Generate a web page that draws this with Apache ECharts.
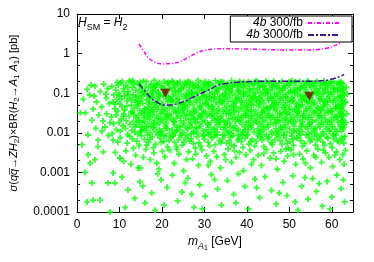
<!DOCTYPE html>
<html><head><meta charset="utf-8">
<script src="https://cdn.jsdelivr.net/npm/echarts@6/dist/echarts.min.js"></script>
<style>html,body{margin:0;padding:0;background:#fff}#c{width:374px;height:262px}</style>
</head><body><div id="c"></div>
<script>
// ---- axis ticks ----
const xTickValues = [0, 10, 20, 30, 40, 50, 60];
const yTickLabels = ['0.0001', '0.001', '0.01', '0.1', '1', '10'];
const yMinorTicks = [0.0002, 0.0005, 0.002, 0.005, 0.02, 0.05, 0.2, 0.5, 2, 5];

// ---- curves ----
const magentaX = [14.6, 15.5, 16.9, 18.5, 20, 22, 24, 26, 28, 30, 32, 35, 40, 45, 50, 54, 57, 59, 60.5, 62, 62.9];
const magentaY = [1.75, 1.25, 0.77, 0.6, 0.55, 0.56, 0.61, 0.78, 1.02, 1.2, 1.3, 1.33, 1.3, 1.26, 1.23, 1.23, 1.28, 1.38, 1.55, 1.85, 2.25];
const blueX = [14.6, 15.8, 17.2, 18.8, 20.5, 22, 23.5, 25.5, 27, 29, 31, 33, 35, 38, 43, 50, 55, 58.5, 60.5, 62, 62.9];
const blueY = [0.17, 0.12, 0.08, 0.06, 0.05, 0.05, 0.054, 0.063, 0.076, 0.097, 0.12, 0.155, 0.175, 0.19, 0.2, 0.2, 0.2, 0.21, 0.235, 0.265, 0.3];

// ---- limits (triangles) ----
const triX = [20.8, 54.7];
const triY = [0.1, 0.084];

// ---- green scan points ----
const greenLeft = [[1.5,0.07],[2.4,0.125],[2.0,0.032],[0.8,0.032],[3.5,0.021],[2.6,0.0088],[1.2,0.005],[4.9,0.0045],[3.0,0.09],[4.2,0.15],[5.5,0.11],[6.3,0.17],[7.2,0.13],[4.6,0.06],[5.8,0.045],[6.9,0.075],[7.6,0.055],[3.8,0.04],[5.1,0.028],[6.1,0.02],[7.0,0.03],[7.8,0.018],[4.4,0.013],[5.9,0.011],[6.6,0.014],[7.4,0.0085],[2.6,0.0028],[4.2,0.0021],[3.1,0.0017],[1.9,0.001],[3.5,0.00054],[2.4,0.00018],[3.8,0.0002],[5.4,0.0002],[7.3,0.00054],[6.2,0.0033],[5.0,0.0065],[3.3,0.16],[6.8,0.095],[4.0,0.085]];

const greenMid = [[8.2,0.15],[9.1,0.12],[10.3,0.18],[11.5,0.16],[12.6,0.19],[13.4,0.17],[8.7,0.09],[9.8,0.1],[10.9,0.13],[11.2,0.085],[12.1,0.11],[13.0,0.14],[13.8,0.12],[8.5,0.06],[9.4,0.07],[10.1,0.055],[11.8,0.065],[12.4,0.075],[13.2,0.09],[13.7,0.06],[8.9,0.04],[9.6,0.035],[10.6,0.045],[11.3,0.038],[12.8,0.05],[13.5,0.042],[8.1,0.025],[9.2,0.028],[10.4,0.022],[11.0,0.03],[12.2,0.026],[13.1,0.033],[13.9,0.024],[8.6,0.017],[9.9,0.018],[10.8,0.015],[11.6,0.02],[12.5,0.016],[13.3,0.019],[9.3,0.012],[10.2,0.011],[11.4,0.013],[12.9,0.0115],[13.6,0.014],[8.3,0.0095],[11.9,0.009],[12.3,0.205],[10.7,0.2],[9.7,0.16],[11.1,0.11],[12.0,0.095],[13.9,0.078],[10.5,0.072],[12.7,0.034],[11.7,0.048],[9.0,0.052],[13.4,0.029],[10.0,0.085],[9.5,0.19],[11.9,0.14],[13.1,0.21],[12.9,0.068],[10.9,0.026],[13.6,0.0105]];

const greenDense = [
[14.2,0.18],[15.6,0.2],[14.9,0.15],[15.3,0.125],[14.5,0.11],[15.8,0.095],[14.1,0.082],[15.1,0.074],[14.7,0.063],[15.5,0.056],[14.3,0.047],[15.9,0.041],[14.8,0.036],[15.2,0.031],[14.4,0.027],[15.7,0.024],[14.6,0.021],[15.4,0.018],[14.0,0.016],[15.0,0.014],[15.8,0.012],[14.9,0.0105],[14.3,0.0092],[15.5,0.0135],[14.7,0.165],[15.2,0.088],[14.5,0.052],[15.9,0.029],
[16.3,0.195],[17.5,0.17],[16.8,0.14],[17.9,0.128],[16.1,0.115],[17.2,0.1],[16.6,0.087],[17.7,0.078],[16.4,0.068],[17.1,0.06],[16.9,0.053],[17.6,0.046],[16.2,0.04],[17.3,0.035],[16.7,0.032],[17.8,0.028],[16.5,0.025],[17.0,0.022],[16.0,0.019],[17.4,0.017],[16.8,0.015],[17.9,0.013],[16.3,0.0115],[17.2,0.01],[16.6,0.0088],[17.5,0.155],[16.9,0.072],[17.7,0.038],
[18.2,0.21],[19.4,0.185],[18.7,0.16],[19.8,0.138],[18.5,0.12],[19.1,0.106],[18.0,0.092],[19.6,0.083],[18.9,0.073],[19.3,0.064],[18.4,0.057],[19.9,0.05],[18.6,0.044],[19.0,0.039],[18.1,0.034],[19.7,0.03],[18.8,0.026],[19.2,0.023],[18.3,0.0205],[19.5,0.018],[18.9,0.016],[18.0,0.014],[19.4,0.0122],[18.6,0.0107],[19.8,0.0093],[18.4,0.145],[19.2,0.098],[18.7,0.048],
[20.5,0.2],[21.3,0.178],[20.1,0.152],[21.8,0.132],[20.8,0.118],[21.1,0.102],[20.3,0.09],[21.6,0.08],[20.9,0.071],[21.4,0.061],[20.2,0.054],[21.9,0.047],[20.6,0.042],[21.2,0.037],[20.0,0.033],[21.7,0.029],[20.7,0.025],[21.5,0.022],[20.4,0.0195],[21.0,0.017],[20.8,0.0148],[21.3,0.0128],[20.1,0.011],[21.8,0.0097],[20.5,0.0086],[21.6,0.165],[20.9,0.085],[21.1,0.026],
[22.4,0.205],[23.6,0.18],[22.9,0.158],[23.1,0.14],[22.2,0.124],[23.8,0.11],[22.7,0.096],[23.3,0.085],[22.0,0.076],[23.5,0.067],[22.6,0.059],[23.9,0.052],[22.3,0.045],[23.2,0.04],[22.8,0.035],[23.7,0.031],[22.1,0.027],[23.4,0.024],[22.5,0.021],[23.0,0.0185],[22.9,0.016],[23.6,0.0138],[22.4,0.012],[23.1,0.0104],[22.7,0.009],[23.8,0.17],[22.2,0.066],[23.3,0.033],
[24.3,0.195],[25.5,0.172],[24.8,0.15],[25.1,0.133],[24.0,0.117],[25.8,0.104],[24.6,0.093],[25.3,0.081],[24.1,0.072],[25.7,0.064],[24.9,0.055],[25.4,0.049],[24.4,0.043],[25.0,0.038],[24.7,0.033],[25.9,0.029],[24.2,0.026],[25.6,0.023],[24.5,0.02],[25.2,0.0175],[24.9,0.0152],[25.8,0.0133],[24.3,0.0116],[25.1,0.01],[24.7,0.0087],[25.5,0.185],[24.0,0.058],[25.3,0.041],
[26.1,0.2],[27.3,0.176],[26.6,0.155],[27.7,0.137],[26.4,0.12],[27.0,0.107],[26.9,0.094],[27.5,0.083],[26.2,0.074],[27.9,0.066],[26.7,0.058],[27.2,0.051],[26.0,0.045],[27.6,0.04],[26.5,0.035],[27.1,0.031],[26.8,0.0275],[27.4,0.024],[26.3,0.0213],[27.8,0.0186],[26.6,0.0163],[27.0,0.0142],[26.1,0.0124],[27.5,0.0108],[26.9,0.0094],[27.3,0.145],[26.4,0.088],[27.7,0.022],
[28.5,0.21],[29.2,0.182],[28.1,0.16],[29.7,0.141],[28.8,0.125],[29.4,0.112],[28.3,0.097],[29.9,0.086],[28.6,0.077],[29.0,0.068],[28.2,0.06],[29.6,0.053],[28.9,0.047],[29.3,0.041],[28.0,0.036],[29.8,0.032],[28.7,0.028],[29.1,0.025],[28.4,0.022],[29.5,0.0192],[28.8,0.0168],[29.2,0.0146],[28.3,0.0127],[29.7,0.011],[28.6,0.0096],[29.9,0.165],[28.1,0.105],[29.4,0.03],
[30.2,0.198],[31.4,0.174],[30.8,0.153],[31.1,0.135],[30.5,0.118],[31.8,0.105],[30.0,0.092],[31.3,0.082],[30.7,0.073],[31.6,0.065],[30.4,0.057],[31.0,0.05],[30.9,0.044],[31.7,0.039],[30.3,0.034],[31.2,0.03],[30.6,0.0265],[31.9,0.0235],[30.1,0.0205],[31.5,0.018],[30.8,0.0158],[31.2,0.0137],[30.4,0.012],[31.6,0.0103],[30.9,0.0089],[31.1,0.188],[30.6,0.068],[31.8,0.046],
[32.6,0.205],[33.3,0.18],[32.1,0.157],[33.8,0.139],[32.9,0.122],[33.0,0.108],[32.4,0.095],[33.6,0.084],[32.2,0.075],[33.9,0.066],[32.7,0.059],[33.2,0.052],[32.0,0.046],[33.5,0.04],[32.8,0.035],[33.1,0.031],[32.3,0.027],[33.7,0.024],[32.5,0.021],[33.4,0.0184],[32.9,0.016],[33.8,0.014],[32.1,0.0122],[33.0,0.0106],[32.6,0.0092],[33.3,0.128],[32.4,0.078],[33.6,0.019],
[34.1,0.195],[35.5,0.171],[34.6,0.151],[35.2,0.134],[34.9,0.119],[35.8,0.103],[34.3,0.091],[35.0,0.08],[34.7,0.071],[35.6,0.063],[34.2,0.056],[35.3,0.049],[34.8,0.043],[35.9,0.038],[34.4,0.034],[35.1,0.03],[34.0,0.026],[35.7,0.023],[34.5,0.0202],[35.4,0.0178],[34.9,0.0155],[35.0,0.0135],[34.6,0.0118],[35.8,0.0102],[34.3,0.0088],[35.5,0.16],[34.7,0.098],[35.2,0.036],
[36.4,0.208],[37.2,0.184],[36.8,0.162],[37.6,0.142],[36.1,0.126],[37.9,0.111],[36.5,0.098],[37.3,0.087],[36.0,0.077],[37.7,0.069],[36.7,0.061],[37.1,0.054],[36.3,0.047],[37.5,0.042],[36.9,0.037],[37.0,0.033],[36.2,0.029],[37.8,0.0255],[36.6,0.0225],[37.4,0.0197],[36.0,0.0172],[37.2,0.015],[36.8,0.013],[37.6,0.0113],[36.4,0.0098],[37.9,0.0086],[36.5,0.145],[37.3,0.058],
[38.3,0.2],[39.5,0.177],[38.9,0.156],[39.1,0.137],[38.0,0.121],[39.7,0.107],[38.6,0.094],[39.3,0.083],[38.2,0.074],[39.9,0.066],[38.8,0.058],[39.4,0.051],[38.5,0.045],[39.0,0.04],[38.1,0.035],[39.6,0.031],[38.7,0.0272],[39.2,0.024],[38.4,0.0212],[39.8,0.0186],[38.9,0.0162],[39.5,0.0141],[38.0,0.0123],[39.1,0.0107],[38.6,0.0093],[39.3,0.19],[38.3,0.114],[39.8,0.028],
[40.4,0.196],[41.1,0.173],[40.0,0.152],[41.7,0.133],[40.7,0.117],[41.4,0.104],[40.2,0.092],[41.9,0.081],[40.9,0.072],[41.2,0.064],[40.5,0.056],[41.6,0.049],[40.1,0.044],[41.0,0.038],[40.8,0.034],[41.8,0.03],[40.3,0.0262],[41.3,0.023],[40.6,0.0203],[41.5,0.0178],[40.9,0.0157],[41.1,0.0136],[40.4,0.0119],[41.7,0.0104],[40.2,0.009],[41.4,0.168],[40.7,0.085],[41.0,0.052],
[42.2,0.206],[43.4,0.181],[42.7,0.159],[43.0,0.14],[42.5,0.123],[43.8,0.109],[42.0,0.096],[43.3,0.085],[42.9,0.076],[43.6,0.067],[42.4,0.059],[43.1,0.052],[42.8,0.046],[43.9,0.041],[42.1,0.036],[43.5,0.032],[42.6,0.028],[43.2,0.0245],[42.3,0.0216],[43.7,0.019],[42.9,0.0166],[43.4,0.0144],[42.5,0.0126],[43.0,0.011],[42.7,0.0095],[43.8,0.15],[42.2,0.07],[43.6,0.025],
[44.5,0.199],[45.3,0.175],[44.1,0.154],[45.8,0.136],[44.8,0.12],[45.0,0.106],[44.3,0.093],[45.6,0.082],[44.9,0.073],[45.2,0.065],[44.0,0.057],[45.9,0.05],[44.6,0.044],[45.4,0.039],[44.2,0.035],[45.1,0.031],[44.7,0.027],[45.7,0.0238],[44.4,0.021],[45.5,0.0183],[44.9,0.016],[45.0,0.0139],[44.1,0.0121],[45.8,0.0105],[44.6,0.0091],[45.3,0.185],[44.8,0.1],[45.6,0.045],
[46.3,0.203],[47.6,0.179],[46.8,0.157],[47.1,0.139],[46.0,0.122],[47.9,0.108],[46.5,0.095],[47.3,0.084],[46.2,0.075],[47.7,0.066],[46.9,0.058],[47.4,0.051],[46.4,0.045],[47.0,0.04],[46.7,0.036],[47.8,0.032],[46.1,0.0278],[47.2,0.0246],[46.6,0.0215],[47.5,0.0188],[46.3,0.0164],[47.9,0.0143],[46.8,0.0125],[47.1,0.0108],[46.0,0.0094],[47.6,0.13],[46.5,0.062],[47.3,0.021],
[48.2,0.197],[49.4,0.174],[48.7,0.153],[49.0,0.135],[48.4,0.119],[49.8,0.105],[48.9,0.092],[49.2,0.082],[48.0,0.073],[49.6,0.064],[48.6,0.057],[49.1,0.05],[48.3,0.044],[49.9,0.039],[48.8,0.034],[49.5,0.03],[48.1,0.0266],[49.3,0.0234],[48.5,0.0206],[49.7,0.018],[48.9,0.0158],[49.0,0.0138],[48.2,0.012],[49.4,0.0104],[48.7,0.009],[49.8,0.163],[48.4,0.078],[49.2,0.033],
[50.6,0.207],[51.2,0.182],[50.1,0.16],[51.7,0.141],[50.9,0.124],[51.4,0.11],[50.3,0.097],[51.9,0.086],[50.7,0.076],[51.0,0.068],[50.4,0.06],[51.6,0.053],[50.0,0.046],[51.3,0.041],[50.8,0.036],[51.8,0.032],[50.2,0.0282],[51.1,0.0249],[50.5,0.0219],[51.5,0.0192],[50.9,0.0168],[51.2,0.0147],[50.1,0.0128],[51.7,0.0111],[50.6,0.0097],[51.4,0.195],[50.3,0.115],[51.9,0.043],
[52.4,0.2],[53.5,0.176],[52.8,0.155],[53.1,0.137],[52.1,0.121],[53.8,0.106],[52.6,0.094],[53.3,0.083],[52.9,0.074],[53.6,0.065],[52.2,0.058],[53.0,0.051],[52.7,0.045],[53.9,0.04],[52.3,0.035],[53.4,0.031],[52.0,0.027],[53.7,0.0242],[52.5,0.0212],[53.2,0.0186],[52.9,0.0163],[53.8,0.0142],[52.4,0.0124],[53.1,0.0107],[52.6,0.0092],[53.5,0.145],[52.8,0.068],[53.3,0.027],
[54.3,0.205],[55.6,0.18],[54.8,0.158],[55.2,0.14],[54.0,0.123],[55.9,0.109],[54.5,0.096],[55.1,0.085],[54.9,0.076],[55.4,0.067],[54.2,0.059],[55.7,0.052],[54.6,0.046],[55.0,0.041],[54.1,0.036],[55.8,0.032],[54.7,0.028],[55.3,0.0248],[54.4,0.0218],[55.5,0.019],[54.8,0.0167],[55.1,0.0145],[54.3,0.0127],[55.9,0.011],[54.6,0.0095],[55.6,0.17],[54.0,0.088],[55.2,0.056],
[56.5,0.198],[57.3,0.175],[56.1,0.153],[57.8,0.135],[56.7,0.119],[57.0,0.105],[56.3,0.093],[57.6,0.082],[56.9,0.073],[57.2,0.064],[56.0,0.057],[57.9,0.05],[56.6,0.044],[57.4,0.039],[56.2,0.035],[57.1,0.031],[56.8,0.027],[57.7,0.0237],[56.4,0.0209],[57.5,0.0183],[56.9,0.016],[57.2,0.014],[56.1,0.0122],[57.8,0.0106],[56.5,0.0092],[57.3,0.155],[56.7,0.098],[57.6,0.037],
[58.2,0.203],[59.4,0.179],[58.7,0.157],[59.1,0.138],[58.4,0.122],[59.8,0.108],[58.0,0.095],[59.3,0.084],[58.9,0.075],[59.6,0.066],[58.5,0.058],[59.0,0.051],[58.1,0.045],[59.7,0.04],[58.8,0.036],[59.2,0.032],[58.3,0.028],[59.9,0.0245],[58.6,0.0215],[59.5,0.0189],[58.0,0.0165],[59.1,0.0144],[58.7,0.0126],[59.4,0.0109],[58.2,0.0094],[59.8,0.19],[58.4,0.11],[59.0,0.062],
[60.4,0.2],[61.2,0.177],[60.0,0.156],[61.7,0.137],[60.8,0.121],[61.4,0.107],[60.2,0.094],[61.9,0.083],[60.6,0.074],[61.0,0.065],[60.3,0.058],[61.6,0.051],[60.9,0.045],[61.3,0.04],[60.1,0.035],[61.8,0.031],[60.7,0.0275],[61.1,0.0243],[60.5,0.0213],[61.5,0.0187],[60.0,0.0163],[61.9,0.0143],[60.8,0.0124],[61.2,0.0108],[60.4,0.0093],[61.6,0.165],[60.6,0.13],[61.4,0.048],
[62.1,0.196],[62.6,0.172],[62.3,0.15],[62.8,0.132],[62.0,0.117],[62.5,0.103],[62.9,0.091],[62.2,0.08],[62.7,0.071],[62.4,0.063],[62.1,0.055],[62.6,0.048],[62.3,0.043],[62.8,0.037],[62.0,0.033],[62.5,0.029],[62.2,0.025],[62.7,0.022],[62.4,0.019],[62.9,0.0165],[62.1,0.0145],[62.6,0.0125],[62.3,0.011],[63.4,0.14],[63.6,0.095],[63.2,0.06],[63.5,0.03],[63.3,0.018]
];

const greenFill = [
[14.9,0.19],[16.1,0.146],[15.3,0.1],[17.6,0.079],[14.4,0.062],[16.7,0.043],[15.8,0.034],[17.2,0.026],[14.6,0.019],[16.4,0.0145],[15.1,0.0112],[17.8,0.115],
[18.9,0.168],[20.6,0.129],[19.3,0.089],[21.7,0.07],[18.4,0.055],[20.2,0.038],[21.1,0.03],[19.7,0.022],[18.1,0.0175],[20.9,0.0132],[19.5,0.0102],[21.5,0.19],
[22.6,0.188],[24.5,0.131],[23.1,0.113],[25.7,0.089],[22.3,0.07],[24.9,0.05],[23.8,0.037],[25.2,0.028],[22.8,0.0195],[24.1,0.0145],[23.5,0.0112],[25.9,0.16],
[26.6,0.19],[28.5,0.146],[27.2,0.1],[29.6,0.079],[26.3,0.062],[28.9,0.043],[27.7,0.033],[29.2,0.0255],[26.8,0.018],[28.1,0.0135],[27.5,0.0101],[29.8,0.12],
[30.5,0.169],[32.7,0.126],[31.3,0.093],[33.5,0.071],[30.2,0.054],[32.0,0.039],[31.7,0.029],[33.1,0.022],[30.8,0.0172],[32.4,0.0128],[31.0,0.0098],[33.8,0.195],
[34.6,0.186],[36.4,0.117],[35.2,0.092],[37.6,0.074],[34.1,0.06],[36.9,0.045],[35.8,0.032],[37.2,0.025],[34.9,0.0185],[36.1,0.0139],[35.5,0.0107],[37.9,0.16],
[38.4,0.17],[40.6,0.128],[39.2,0.1],[41.5,0.077],[38.7,0.063],[40.0,0.047],[39.9,0.036],[41.1,0.027],[38.2,0.0195],[40.3,0.0148],[39.6,0.0115],[41.8,0.19],
[42.5,0.19],[44.3,0.129],[43.1,0.1],[45.6,0.078],[42.8,0.062],[44.9,0.043],[43.6,0.034],[45.2,0.026],[42.2,0.019],[44.0,0.0145],[43.4,0.0105],[45.9,0.15],
[46.7,0.17],[48.4,0.135],[47.1,0.099],[49.6,0.073],[46.3,0.055],[48.9,0.042],[47.8,0.03],[49.1,0.0225],[46.9,0.0177],[48.2,0.0133],[47.5,0.01],[49.9,0.19],
[50.2,0.188],[52.5,0.13],[51.3,0.103],[53.6,0.08],[50.7,0.064],[52.1,0.047],[51.8,0.034],[53.2,0.026],[50.4,0.0196],[52.8,0.0148],[51.1,0.0112],[53.9,0.165],
[54.5,0.19],[56.2,0.128],[55.4,0.1],[57.5,0.071],[54.1,0.063],[56.8,0.043],[55.7,0.034],[57.1,0.026],[54.9,0.0178],[56.0,0.013],[55.3,0.0101],[57.9,0.18],
[58.6,0.17],[60.4,0.13],[59.2,0.101],[61.5,0.079],[58.3,0.062],[60.9,0.042],[59.8,0.034],[61.2,0.0255],[58.9,0.019],[60.1,0.0145],[59.5,0.0113],[61.8,0.187],
[62.2,0.18],[62.7,0.12],[62.4,0.085],[62.9,0.058],[62.1,0.04],[62.6,0.027],[62.3,0.02],[62.8,0.014]
];

const greenLow = [
[8.5,0.0065],[10.2,0.0075],[11.8,0.0055],[13.1,0.007],[14.6,0.0048],[15.9,0.0068],[16.8,0.0058],[17.7,0.0078],[18.5,0.0052],[19.6,0.0072],[20.4,0.0061],[21.3,0.0044],[22.1,0.0076],[23.0,0.0057],[23.9,0.0067],[24.8,0.0049],[25.6,0.0073],[26.5,0.0062],[27.4,0.0053],[28.2,0.0079],[29.1,0.0046],[30.0,0.0069],[30.9,0.0058],[31.7,0.0075],[32.6,0.005],[33.5,0.0064],[34.3,0.0071],[35.2,0.0055],[36.1,0.0078],[37.0,0.0047],[37.8,0.0066],[38.7,0.0059],[39.6,0.0074],[40.5,0.0052],[41.3,0.0068],[42.2,0.0061],[43.1,0.0077],[44.0,0.0045],[44.9,0.007],[45.7,0.0056],[46.6,0.0065],[47.5,0.0079],[48.3,0.0051],[49.2,0.0072],[50.1,0.006],[51.0,0.0048],[51.8,0.0074],[52.7,0.0063],[53.6,0.0054],[54.5,0.0076],[55.3,0.0067],[56.2,0.0049],[57.1,0.0071],[57.9,0.0058],[58.8,0.0077],[59.7,0.0053],[60.6,0.0069],[61.4,0.0062],[62.3,0.0075],[62.8,0.0055],
[15.2,0.0085],[19.0,0.0088],[22.6,0.0083],[26.0,0.0086],[29.7,0.0082],[33.0,0.0087],[36.7,0.0084],[40.0,0.0089],[43.7,0.0081],[47.0,0.0086],[50.6,0.0083],[54.0,0.0088],[57.5,0.0084],[61.0,0.0087],[18.0,0.0042],[27.9,0.0041],[39.1,0.0043],[49.8,0.0041],[60.1,0.0042],
[9.6,0.0058],[12.4,0.0082],[14.1,0.0062],[16.4,0.0049],[17.2,0.0069],[19.9,0.0057],[20.9,0.0081],[21.7,0.0064],[23.4,0.0045],[24.3,0.0085],[25.2,0.0059],[26.9,0.0071],[28.7,0.0056],[29.9,0.0089],[31.2,0.0047],[32.1,0.0079],[33.9,0.0056],[34.8,0.0086],[35.9,0.0063],[36.4,0.0049],[38.2,0.0072],[39.0,0.0087],[40.9,0.0061],[41.8,0.0047],[42.7,0.0084],[43.6,0.0066],[45.2,0.0078],[46.0,0.005],[47.9,0.0063],[48.7,0.0088],[49.5,0.0055],[50.9,0.0068],[52.2,0.0085],[53.1,0.0046],[54.9,0.006],[55.9,0.0082],[56.6,0.0066],[58.3,0.0048],[59.1,0.0073],[60.3,0.0085],[61.8,0.0057],[62.5,0.0068],[63.1,0.0081]
];

const greenSparse = [
[9.0,0.0032],[10.1,0.0023],[11.5,0.0035],[12.7,0.0016],[13.8,0.0027],[14.9,0.0013],[16.2,0.0038],[17.3,0.0021],[18.1,0.0031],[19.3,0.0012],[20.7,0.0025],[21.8,0.0036],[22.9,0.0017],[24.0,0.0029],[25.1,0.0011],[26.3,0.0033],[27.2,0.0022],[28.6,0.0015],[29.4,0.0037],[30.5,0.0026],[31.4,0.0019],[32.2,0.0034],[33.8,0.0013],[34.7,0.0028],[35.6,0.0039],[36.4,0.0018],[37.5,0.0024],[38.3,0.0032],[39.2,0.0011],[40.8,0.0036],[41.6,0.0021],[42.7,0.0027],[43.4,0.0015],[44.6,0.0038],[45.5,0.0023],[46.3,0.0031],[47.2,0.0012],[48.0,0.0034],[48.8,0.0019],[49.6,0.0026],[50.4,0.0037],[51.5,0.0016],[52.4,0.0029],[53.2,0.0022],[54.1,0.0035],[55.0,0.0013],[55.8,0.0027],[56.7,0.0039],[57.6,0.0018],[58.5,0.0031],[59.3,0.0024],[60.2,0.0014],[61.1,0.0033],[61.9,0.0021],[62.6,0.0028],[63.2,0.0036],
[11.0,0.0019],[13.3,0.0041],[15.6,0.0024],[18.8,0.0017],[20.1,0.0034],[23.5,0.0038],[25.8,0.0021],[27.9,0.0029],[30.9,0.0015],[32.9,0.0025],[35.0,0.0021],[37.1,0.0035],[39.8,0.0028],[41.1,0.0016],[44.0,0.003],[46.9,0.0022],[49.2,0.0039],[51.0,0.0028],[53.8,0.0017],[56.2,0.0024],[58.0,0.0036],[60.7,0.0027],[62.9,0.0016],
[7.8,0.0001],[8.9,0.00054],[8.5,0.00097],[10.6,0.00076],[12.0,0.00036],[13.6,0.00022],[14.8,0.00058],[14.4,0.0013],[10.1,0.0023],[16.0,0.00017],[17.6,0.0003],[18.4,0.00011],[19.8,0.00065],[21.2,0.00042],[22.5,0.00085],[23.7,0.00019],[24.7,0.00032],[26.1,0.00072],[27.6,0.00013],[28.9,0.00048],[30.2,0.00025],[31.6,0.00088],[33.1,0.00038],[34.0,0.00015],[35.4,0.00062],[36.9,0.00028],[38.0,0.00092],[39.5,0.00044],[40.4,0.00012],[41.9,0.00068],[43.0,0.00023],[44.3,0.00078],[45.8,0.00035],[46.9,0.00016],[48.5,0.00056],[49.4,0.00026],[50.8,0.00082],[52.0,0.00011],[52.9,0.00045],[54.4,0.00021],[55.5,0.0007],[56.4,0.00033],[57.8,0.00014],[58.9,0.00059],[60.0,0.00024],[61.2,0.00086],[62.2,0.00039],[63.0,0.00018],
[11.3,0.00013],[15.5,0.00045],[20.5,0.00015],[25.5,0.00055],[29.5,0.00012],[32.4,0.00066],[37.4,0.00017],[42.3,0.00041],[47.6,0.0003],[51.4,0.00018],[53.7,0.00074],[57.0,0.00052],[59.6,0.00012],[62.7,0.00065],[19.0,0.00092],[27.0,0.00028]
];

const FONT = '"Liberation Sans", Arial, Helvetica, sans-serif';
const plusPath = 'path://M0,2.1H2.1V0H3.9V2.1H6V3.9H3.9V6H2.1V3.9H0Z';

const chart = echarts.init(document.getElementById('c'), null, {renderer: 'canvas'});

const lineBlack = {show: true, onZero: false, lineStyle: {color: '#000', width: 1}};
function makeRich(fs, ss, pad) {
  return {
    n: {fontFamily: FONT, fontSize: fs, color: '#000', verticalAlign: 'top'},
    i: {fontFamily: FONT, fontSize: fs, color: '#000', fontStyle: 'italic', verticalAlign: 'top'},
    s: {fontFamily: FONT, fontSize: ss, color: '#000', verticalAlign: 'top', padding: [pad, 0, 0, 0]},
    si: {fontFamily: FONT, fontSize: ss, color: '#000', fontStyle: 'italic', verticalAlign: 'top', padding: [pad, 0, 0, 0]},
    ss: {fontFamily: FONT, fontSize: ss - 2, color: '#000', verticalAlign: 'top', padding: [pad + 3, 0, 0, 0]}
  };
}
const rich12 = makeRich(12, 9, 6);
const rich11 = makeRich(11, 8, 5);

const option = {
  animation: false,
  backgroundColor: '#fff',
  grid: {left: 77, right: 21, top: 14, bottom: 50, containLabel: false, outerBoundsMode: 'none'},
  xAxis: [
    {type: 'value', min: 0, max: 65, position: 'bottom', axisLine: lineBlack,
     axisTick: {show: true, inside: true, length: 5, customValues: xTickValues, lineStyle: {color: '#000'}},
     axisLabel: {customValues: xTickValues, margin: 7, fontSize: 12, color: '#000', fontFamily: FONT},
     splitLine: {show: false},
     name: '{i|m}{si|A}{ss|1}{n| [GeV]}', nameLocation: 'middle', nameGap: 20,
     nameTextStyle: {rich: rich12, fontFamily: FONT, fontSize: 12, color: '#000'}},
    {type: 'value', min: 0, max: 65, position: 'top', axisLine: lineBlack,
     axisTick: {show: true, inside: true, length: 5, customValues: xTickValues, lineStyle: {color: '#000'}},
     axisLabel: {show: false}, splitLine: {show: false}}
  ],
  yAxis: [
    {type: 'log', logBase: 10, min: 0.0001, max: 10, position: 'left', axisLine: lineBlack,
     axisTick: {show: true, inside: true, length: 5, lineStyle: {color: '#000'}},
     axisLabel: {margin: 7, fontSize: 12, color: '#000', fontFamily: FONT,
       formatter: v => yTickLabels[Math.round(Math.log10(v)) + 4] || ''},
     splitLine: {show: false}, minorTick: {show: false},
     name: '{i|σ}{n|(}{i|qq\u0305}{n|→}{i|ZH}{s|2}{n|)×BR(}{i|H}{s|2}{n|→}{i|A}{s|1}{n| }{i|A}{s|1}{n|) [pb]}',
     nameLocation: 'middle', nameGap: 56, nameRotate: 90,
     nameTextStyle: {rich: rich11, fontFamily: FONT, fontSize: 11, color: '#000'}},
    {type: 'log', logBase: 10, min: 0.0001, max: 10, position: 'right', axisLine: lineBlack,
     axisTick: {show: true, inside: true, length: 5, lineStyle: {color: '#000'}},
     axisLabel: {show: false}, splitLine: {show: false}},
    {type: 'value', min: -4, max: 1, position: 'left', axisLine: {show: false, onZero: false},
     axisTick: {show: true, inside: true, length: 3, customValues: yMinorTicks.map(Math.log10), lineStyle: {color: '#000'}},
     axisLabel: {show: false}, splitLine: {show: false}},
    {type: 'value', min: -4, max: 1, position: 'right', axisLine: {show: false, onZero: false},
     axisTick: {show: true, inside: true, length: 3, customValues: yMinorTicks.map(Math.log10), lineStyle: {color: '#000'}},
     axisLabel: {show: false}, splitLine: {show: false}}
  ],
  legend: {
    data: ['4b 300/fb', '4b 3000/fb'],
    orient: 'vertical', right: 22, top: 16, align: 'right',
    itemWidth: 32, itemHeight: 11, itemGap: 0,
    padding: [1, 11, 1, 16],
    borderColor: '#000', borderWidth: 1, backgroundColor: '#fff',
    selectedMode: false,
    itemStyle: {opacity: 0},
    formatter: n => n.replace('4b', '{li|4b}'),
    textStyle: {fontFamily: FONT, fontSize: 12, color: '#000', lineHeight: 11,
      rich: {li: {fontFamily: FONT, fontSize: 12, fontStyle: 'italic', color: '#000', lineHeight: 11}}}
  },
  graphic: [{
    type: 'text', left: 78, top: 17, z: 100,
    style: {text: '{i|H}{s|SM}{n| = }{i|H}{s|2}', rich: rich12, fill: '#000'}
  }],
  series: [
    {type: 'scatter', name: 'scan', xAxisIndex: 0, yAxisIndex: 0, symbol: plusPath, symbolSize: 6,
     itemStyle: {color: '#00ff00'}, silent: true, large: false,
     data: greenLeft.concat(greenMid, greenDense, greenFill, greenLow, greenSparse)},
    {type: 'line', name: '4b 300/fb', xAxisIndex: 0, yAxisIndex: 0, symbol: 'none', smooth: 0.4,
     lineStyle: {color: '#ff00ff', width: 1.5, type: [4, 2, 1, 2]}, itemStyle: {color: '#ff00ff'},
     data: magentaX.map((x, i) => [x, magentaY[i]])},
    {type: 'line', name: '4b 3000/fb', xAxisIndex: 0, yAxisIndex: 0, symbol: 'none', smooth: 0.4,
     lineStyle: {color: '#3c1590', width: 1.5, type: [6, 2, 2, 2]}, itemStyle: {color: '#3c1590'},
     data: blueX.map((x, i) => [x, blueY[i]])},
    {type: 'scatter', name: 'limits', xAxisIndex: 0, yAxisIndex: 0, symbol: 'triangle', symbolRotate: 180,
     symbolSize: [10, 9], itemStyle: {color: '#8b0000'}, silent: true,
     data: triX.map((x, i) => [x, triY[i]])}
  ]
};
chart.setOption(option);
</script>
</body></html>
